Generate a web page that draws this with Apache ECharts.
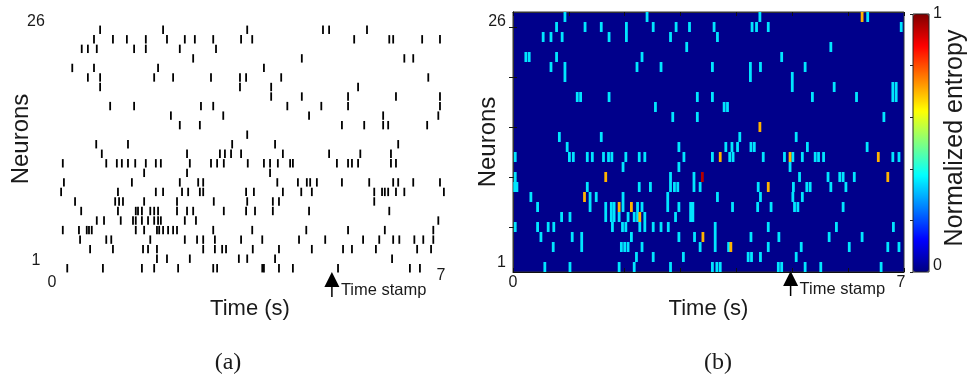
<!DOCTYPE html>
<html><head><meta charset="utf-8">
<script src="https://cdn.jsdelivr.net/npm/echarts@6/dist/echarts.min.js"></script>
<style>html,body{margin:0;padding:0;background:#fff}#c{width:969px;height:377px}</style>
</head><body><div id="c"></div>
<script>
// ---------- data ----------
const timeRange = [0, 7];
const timeTickLabels = [0, 7];
const neuronTickLabels = [1, 26];
const entropyTickLabels = [0, 1];
const timeStamp = 4.97;

// (a) raster: spike times (s) for neurons 1..26
const rasterSpikes = [
  [0.22,0.86,1.56,1.78,2.21,2.84,2.91,3.72,3.75,4.02,4.27,5.08,6.37,6.55],
  [1.83,2.01,2.42,3.30,3.45,3.95,6.05],
  [0.63,1.04,1.58,1.67,1.83,2.66,2.87,3.00,3.07,3.55,4.02,4.61,5.17,5.33,5.76,6.50,6.75],
  [0.45,0.92,1.01,1.71,2.33,2.55,2.66,2.87,3.34,3.72,4.38,4.85,5.53,5.82,6.07,6.18,6.45,6.61,6.79],
  [0.14,0.43,0.57,0.61,0.66,1.45,1.60,1.83,1.87,1.94,2.03,2.12,2.19,2.84,3.54,4.51,5.26,5.92,6.79],
  [0.75,0.88,1.18,1.40,1.45,1.56,1.67,1.78,1.85,1.90,2.33,2.53,6.88],
  [0.47,1.13,1.45,1.49,1.56,1.71,1.78,1.85,2.19,2.37,2.48,3.03,3.43,3.59,3.91,4.56,6.00],
  [0.36,1.08,1.15,1.22,1.60,2.19,2.85,3.45,3.91,4.02,5.73],
  [0.11,1.13,1.81,1.94,2.28,2.39,2.60,2.66,3.43,3.57,4.09,4.42,4.61,5.73,5.87,5.92,5.98,6.12,6.27,6.98],
  [0.16,1.38,2.24,2.57,2.66,3.99,4.36,4.52,4.58,4.70,5.15,5.64,6.07,6.16,6.43,6.91],
  [1.60,2.37,3.86],
  [0.14,0.92,1.11,1.20,1.31,1.44,1.63,1.81,1.90,2.42,2.80,2.91,3.03,3.46,3.75,3.86,4.00,4.22,4.27,5.06,5.26,5.33,5.44,6.03,6.12],
  [0.84,2.37,2.96,3.05,3.16,3.34,4.09,4.92,5.48,6.03],
  [0.74,1.31,3.18,3.95,6.16],
  [3.45],
  [2.24,2.60,5.15,5.55,5.89,5.98,6.68],
  [2.08,3.02,4.56,5.89,6.88],
  [0.99,1.42,2.62,2.84,4.17,4.78,5.26,6.91],
  [3.88,4.43,5.26,6.12,6.91],
  [0.81,3.32,3.88,5.44],
  [0.59,0.81,1.78,2.12,2.80,3.32,3.43,4.06,6.70],
  [0.31,0.70,1.85,3.75],
  [2.48,4.43,6.27,6.43],
  [0.48,0.59,0.75,1.42,1.63,2.24,2.89],
  [0.70,1.04,1.29,1.63,2.01,2.33,2.51,2.84,3.34,3.54,5.37,6.00,6.07,6.59,6.91],
  [0.81,1.94,3.45,4.81,4.92,5.60]
];

// (b) entropy map: low-entropy spike times (s) for neurons 1..26
const lowEntropyValue = 0.35;
const lowEntropySpikes = [
  [0.57,1.02,1.90,2.17,2.82,3.57,3.65,3.71,4.75,4.81,5.23,5.51,6.59],
  [2.21,2.51,3.05,4.21,4.27,4.43,5.07],
  [0.72,1.23,1.94,2.00,2.06,2.31,3.35,3.62,3.86,4.57,5.16,6.02,6.71,6.91],
  [0.50,1.06,1.23,2.12,2.97,3.25,3.62,4.26,4.76,5.66,6.25],
  [0.04,0.44,0.63,0.73,1.78,1.96,2.02,2.27,2.36,2.51,2.65,2.78,3.62,4.57,5.79,6.81],
  [0.87,1.02,1.66,1.76,1.81,1.90,2.06,2.17,2.23,2.36,2.91,3.18,3.22],
  [0.44,1.38,1.66,1.76,1.81,1.97,2.23,2.31,2.77,2.97,3.18,3.22,3.93,4.38,4.62,5.04,5.10,5.91],
  [0.32,1.38,1.49,1.97,2.77,3.66,4.43,5.01,5.18],
  [0.03,0.07,1.33,2.26,2.46,2.82,2.89,2.95,3.24,3.35,4.39,5.02,5.26,5.32,5.69,5.96],
  [0.04,2.82,3.24,5.13,5.64,5.85,5.91,6.11],
  [1.97,2.97,4.96],
  [0.04,1.01,1.08,1.33,1.42,1.62,1.71,1.77,2.02,2.26,2.36,3.06,3.57,3.88,3.94,4.48,4.86,5.01,5.18,5.41,5.47,5.56,6.80,6.91],
  [0.97,2.97,3.81,3.92,4.02,4.26,4.32,5.27,6.34],
  [0.83,1.58,4.06,5.07],
  [],
  [2.86,3.30,6.64],
  [2.55,3.78,3.84],
  [1.15,1.21,1.72,3.30,3.57,5.36,6.15,6.80,6.86],
  [5.00,5.75,6.80,6.86],
  [0.93,4.25,5.00],
  [0.68,0.93,2.22,2.65,3.57,4.25,4.43,5.23],
  [0.23,0.29,0.78,2.31,4.81],
  [3.11,5.69],
  [0.54,0.68,0.88,1.72,2.03,2.82,3.66],
  [0.78,1.29,1.58,2.03,2.51,2.92,3.16,3.60,4.28,4.36,4.57,6.95],
  [0.93,2.40,4.42,6.35]
];
// high-entropy spikes: [time (s), neuron, normalized entropy]
const highEntropySpikes = [
  [6.25,26,0.70],[4.42,15,0.70],[3.71,12,0.70],[4.96,12,0.70],[6.54,12,0.70],
  [1.66,10,0.70],[6.71,10,0.70],[3.39,10,0.95],[4.57,9,0.70],[1.28,8,0.70],
  [1.90,7,0.70],[2.12,7,0.70],[2.27,6,0.70],[3.40,4,0.70],[3.90,3,0.70]
];

// ---------- build ----------
const rasterData = [];
rasterSpikes.forEach((row, i) => row.forEach(t => rasterData.push([t, i + 1])));
const entropyData = [];
lowEntropySpikes.forEach((row, i) => row.forEach(t => entropyData.push([t, i + 1, lowEntropyValue])));
highEntropySpikes.forEach(s => entropyData.push(s));

const jet = ['#000080','#0000ff','#0080ff','#00ffff','#80ff80','#ffff00','#ff8000','#ff0000','#800000'];
const FONT = 'Liberation Sans';
const TXT = '#1a1a1a';
const tickFont = {fontFamily: FONT, fontSize: 16, color: TXT};

const chart = echarts.init(document.getElementById('c'), null, {renderer: 'canvas'});
const option = {
  animation: false,
  backgroundColor: '#ffffff',
  grid: [
    {left: 55, top: 25, width: 390, height: 248, show: false},
    {left: 513, top: 12, width: 391, height: 260, show: true, backgroundColor: '#00008b', borderColor: '#333', borderWidth: 1},
    {left: 913, top: 14, width: 16, height: 258, show: false}
  ],
  xAxis: [
    {gridIndex: 0, type: 'value', min: timeRange[0], max: timeRange[1],
     axisLine: {show: false}, axisTick: {show: false}, splitLine: {show: false},
     axisLabel: Object.assign({customValues: timeTickLabels, margin: -5,
       formatter: v => v === 0 ? '{z|0}' : '{s|7}',
       rich: {z: {padding: [7, 6, 0, 0]}, s: {padding: [0, 8, 0, 0]}}}, tickFont),
     name: 'Time (s)', nameLocation: 'middle', nameGap: 25, nameMoveOverlap: false,
     nameTextStyle: {fontFamily: FONT, fontSize: 22, color: TXT}},
    {gridIndex: 1, type: 'value', min: timeRange[0], max: timeRange[1], interval: 1,
     axisLine: {show: true, lineStyle: {color: '#111', width: 1}},
     axisTick: {show: true, inside: true, length: 4, lineStyle: {color: '#111'}},
     splitLine: {show: false},
     axisLabel: Object.assign({customValues: timeTickLabels, margin: 3,
       formatter: v => v === 0 ? '{z|0}' : '{s|7}',
       rich: {z: {padding: [0, 0, 0, 0]}, s: {padding: [0, 6, 0, 0]}}}, tickFont),
     name: 'Time (s)', nameLocation: 'middle', nameGap: 26, nameMoveOverlap: false,
     nameTextStyle: {fontFamily: FONT, fontSize: 22, color: TXT}},
    {gridIndex: 1, type: 'value', position: 'top', min: timeRange[0], max: timeRange[1], interval: 1,
     axisLine: {show: true, lineStyle: {color: '#333'}},
     axisTick: {show: true, inside: true, length: 4, lineStyle: {color: '#111'}},
     axisLabel: {show: false}, splitLine: {show: false}},
    {gridIndex: 2, type: 'value', min: 0, max: 1, show: false}
  ],
  yAxis: [
    {gridIndex: 0, type: 'value', min: 0.5, max: neuronTickLabels[1] + 0.5,
     axisLine: {show: false}, axisTick: {show: false}, splitLine: {show: false},
     axisLabel: Object.assign({customValues: neuronTickLabels, margin: 19, align: 'center', verticalAlign: 'bottom'}, tickFont),
     name: 'Neurons', nameLocation: 'middle', nameGap: 22, nameMoveOverlap: false,
     nameTextStyle: {fontFamily: FONT, fontSize: 24, color: TXT, padding: [0, 0, 0, 20]}},
    {gridIndex: 1, type: 'value', min: 0.5, max: neuronTickLabels[1] + 0.5,
     axisLine: {show: true, lineStyle: {color: '#111'}},
     axisTick: {show: true, inside: true, length: 4, customValues: [5, 10, 15, 20, 25], lineStyle: {color: '#111'}},
     splitLine: {show: false},
     axisLabel: Object.assign({customValues: neuronTickLabels, margin: 7,
       formatter: v => v === 26 ? '{t|26}' : '{b|1}',
       rich: {t: {padding: [10, 0, 0, 0]}, b: {padding: [0, 0, 8, 0]}}}, tickFont),
     name: 'Neurons', nameLocation: 'middle', nameGap: 13, nameMoveOverlap: false,
     nameTextStyle: {fontFamily: FONT, fontSize: 24, color: TXT}},
    {gridIndex: 1, type: 'value', position: 'right', min: 0.5, max: neuronTickLabels[1] + 0.5,
     axisLine: {show: true, lineStyle: {color: '#333'}},
     axisTick: {show: true, inside: true, length: 4, customValues: [5, 10, 15, 20, 25], lineStyle: {color: '#111'}},
     axisLabel: {show: false}, splitLine: {show: false}},
    {gridIndex: 2, type: 'value', position: 'right', min: 0, max: 1, interval: 0.2,
     axisLine: {show: false},
     axisTick: {show: true, inside: true, length: 3, lineStyle: {color: '#222'}},
     splitLine: {show: false},
     axisLabel: Object.assign({customValues: entropyTickLabels, margin: 4,
       formatter: v => v === 1 ? '{t|1}' : '{b|0}',
       rich: {t: {padding: [0, 0, 0, 0]}, b: {padding: [0, 0, 12, 0]}}}, tickFont),
     name: 'Normalized entropy', nameLocation: 'middle', nameGap: 14, nameMoveOverlap: false,
     nameTextStyle: {fontFamily: FONT, fontSize: 25, color: TXT, padding: [0, 0, 0, 10]}}
  ],
  visualMap: {
    type: 'continuous', min: 0, max: 1, dimension: 2, seriesIndex: 1,
    inRange: {color: jet}, calculable: false, realtime: false,
    orient: 'vertical', left: 913, top: 14, itemWidth: 16, itemHeight: 258,
    padding: 0, text: null, showLabel: false, hoverLink: false
  },
  series: [
    {type: 'custom', xAxisIndex: 0, yAxisIndex: 0, data: rasterData, clip: false,
     renderItem: (params, api) => {
       const p = api.coord([api.value(0), api.value(1)]);
       const h = api.size([0, 1])[1] * 0.88;
       return {type: 'rect', shape: {x: p[0] - 0.9, y: p[1] - h / 2, width: 1.8, height: h},
               style: {fill: '#000'}};
     }},
    {type: 'custom', xAxisIndex: 1, yAxisIndex: 1, data: entropyData, clip: true,
     encode: {x: 0, y: 1},
     renderItem: (params, api) => {
       const p = api.coord([api.value(0), api.value(1)]);
       const s = api.size([0.05, 1]);
       return {type: 'rect', shape: {x: p[0] - s[0] / 2, y: p[1] - s[1] / 2, width: s[0], height: s[1]},
               style: {fill: api.visual('color')}};
     }}
  ]
};
chart.setOption(option);

// time-stamp arrows and panel captions
function stamp(xIdx, yIdx) {
  const p = chart.convertToPixel({xAxisIndex: xIdx, yAxisIndex: yIdx}, [timeStamp, 0.5]);
  const cx = p[0], by = p[1];
  return [
    {type: 'polygon', shape: {points: [[cx, by - 1], [cx - 7.5, by + 14], [cx + 7.5, by + 14]]}, style: {fill: '#000'}},
    {type: 'line', shape: {x1: cx, y1: by + 10, x2: cx, y2: by + 24}, style: {stroke: '#000', lineWidth: 1.5}},
    {type: 'text', x: cx + 9, y: by + 17, style: {text: 'Time stamp', font: '16.5px "Liberation Sans"', fill: TXT, verticalAlign: 'middle', align: 'left'}}
  ];
}
const cb = chart.convertToPixel({xAxisIndex: 3, yAxisIndex: 3}, [0, 0]);
const ct = chart.convertToPixel({xAxisIndex: 3, yAxisIndex: 3}, [1, 1]);
chart.setOption({
  graphic: [].concat(stamp(0, 0), stamp(1, 1), [
    {type: 'rect', shape: {x: cb[0], y: ct[1], width: ct[0] - cb[0], height: cb[1] - ct[1]}, style: {fill: 'none', stroke: '#222', lineWidth: 1}, z: 100},
    {type: 'text', x: 228, y: 363, style: {text: '(a)', font: '24px "Liberation Serif"', fill: TXT, align: 'center', verticalAlign: 'middle'}},
    {type: 'text', x: 718, y: 363, style: {text: '(b)', font: '24px "Liberation Serif"', fill: TXT, align: 'center', verticalAlign: 'middle'}}
  ])
});
</script>
</body></html>
